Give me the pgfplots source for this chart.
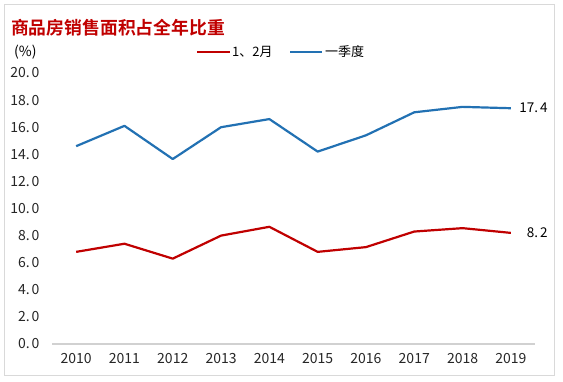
\documentclass[border=0pt]{standalone}
\usepackage{pgfplots}
\pgfplotsset{compat=1.18}
\usepackage{fontspec}
\setmainfont{Liberation Sans}
\newfontfamily\cjk{Noto Sans CJK SC}
\newfontfamily\cjkb{Noto Sans CJK SC Bold}
\definecolor{sred}{HTML}{C00000}
\definecolor{sblue}{HTML}{2271B3}
\definecolor{tred}{HTML}{C00000}
\newcommand{\dpt}{.\hspace{2bp}}
\pgfplotstableread{
x  year  q12   q1
0  2010  6.8   14.6
1  2011  7.4   16.1
2  2012  6.3   13.65
3  2013  8.0   16.0
4  2014  8.65  16.6
5  2015  6.8   14.2
6  2016  7.15  15.4
7  2017  8.3   17.1
8  2018  8.55  17.5
9  2019  8.2   17.4
}\datatable
\begin{document}
\begin{tikzpicture}[x=1bp,y=1bp]
\path[use as bounding box] (0,0) rectangle (563,381);
\draw[color=black!15, line width=0.8bp] (4,6) rectangle (554,377);
\node[anchor=west, text=tred, font=\cjkb\fontsize{17.8bp}{17.8bp}\selectfont, inner sep=0] at (11,353) {商品房销售面积占全年比重};
\node[anchor=west, font=\cjk\fontsize{14bp}{14bp}\selectfont, inner sep=0] at (14,329) {(\%)};
\draw[sred, line width=2.2bp] (197,329) -- (230,329);
\node[anchor=west, font=\cjk\fontsize{13bp}{13bp}\selectfont, inner sep=0] at (232,329) {1、2月};
\draw[sblue, line width=2.2bp] (290,329) -- (322,329);
\node[anchor=west, font=\cjk\fontsize{13bp}{13bp}\selectfont, inner sep=0] at (325,329) {一季度};
\begin{axis}[
  at={(52bp,37bp)}, anchor=south west,
  width=483bp, height=271bp, scale only axis,
  xmin=-0.5, xmax=9.5, ymin=0, ymax=20,
  xtick={0,...,9},
  xticklabels={2010,2011,2012,2013,2014,2015,2016,2017,2018,2019},
  ytick={0,2,...,20},
  yticklabels={0\dpt0,2\dpt0,4\dpt0,6\dpt0,8\dpt0,10\dpt0,12\dpt0,14\dpt0,16\dpt0,18\dpt0,20\dpt0},
  separate axis lines,
  axis x line*=bottom, axis y line*=left,
  x axis line style={draw=black!18, line width=1.2bp, -},
  y axis line style={draw=none},
  major tick length=0,
  ticklabel style={font=\cjk\fontsize{14bp}{14bp}\selectfont, text=black!85},
  yticklabel style={xshift=-9bp},
  xticklabel style={yshift=-6bp},
  clip=false,
]
\addplot[sblue, line width=2.2bp, line join=round] table[x=x,y=q1] {\datatable};
\addplot[sred, line width=2.2bp, line join=round] table[x=x,y=q12] {\datatable};
\node[anchor=east, font=\cjk\fontsize{13.5bp}{13.5bp}\selectfont, inner sep=0] at (axis cs:9,17.4) [xshift=37bp] {17\dpt4};
\node[anchor=east, font=\cjk\fontsize{13.5bp}{13.5bp}\selectfont, inner sep=0] at (axis cs:9,8.2) [xshift=37bp] {8\dpt2};
\end{axis}
\end{tikzpicture}
\end{document}
